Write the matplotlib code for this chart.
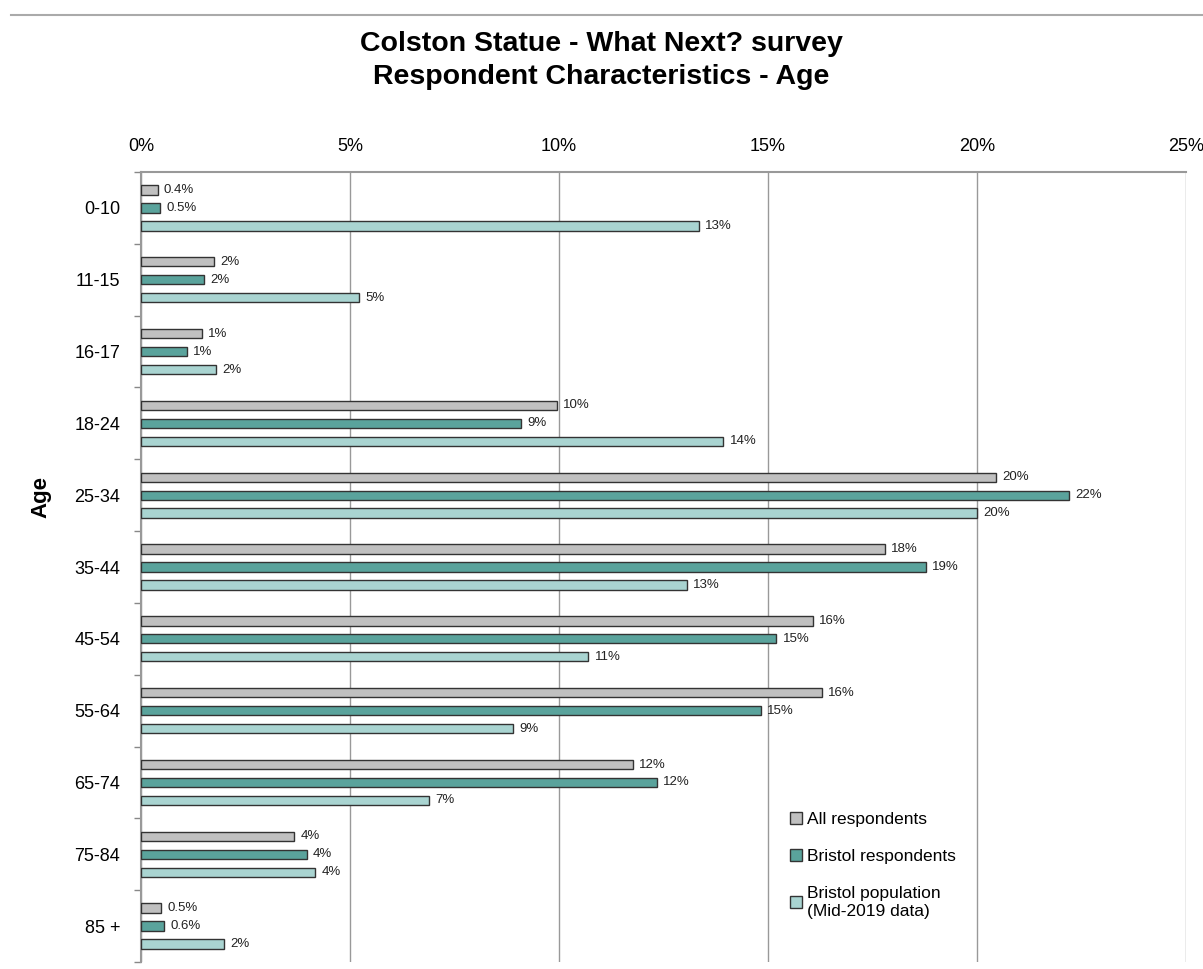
import numpy as np
import matplotlib.pyplot as plt
from matplotlib.lines import Line2D

plt.rcParams['font.family'] = ['Liberation Sans', 'DejaVu Sans']

# Datos (porcentaje)
age_groups = ['0-10', '11-15', '16-17', '18-24', '25-34', '35-44',
              '45-54', '55-64', '65-74', '75-84', '85 +']
all_respondents = [0.4, 1.75, 1.45, 9.94, 20.45, 17.8, 16.07, 16.28, 11.76, 3.66, 0.48]
bristol_respondents = [0.46, 1.51, 1.09, 9.1, 22.2, 18.78, 15.2, 14.83, 12.34, 3.96, 0.56]
bristol_population = [13.35, 5.21, 1.8, 13.93, 20.0, 13.05, 10.7, 8.9, 6.9, 4.17, 1.98]

series_names = ['All respondents', 'Bristol respondents',
                'Bristol population\n(Mid-2019 data)']
series_colors = ['#c0c0c0', '#5aa39c', '#a9d4d1']
x_ticks = [0, 5, 10, 15, 20, 25]


def fmt(v):
    # valores bajo 1% con un decimal, el resto redondeado
    if v < 1:
        return f'{v:.1f}%'
    return f'{round(v)}%'


fig = plt.figure(figsize=(12.03, 9.69), dpi=100)
ax = fig.add_axes([0.1172, 0.0072, 0.986 - 0.1172, 0.8225 - 0.0072])

y = np.arange(len(age_groups))
bar_h = 0.13
offsets = [-0.25, 0.0, 0.25]
all_series = [all_respondents, bristol_respondents, bristol_population]

for vals, off, color, name in zip(all_series, offsets, series_colors, series_names):
    bars = ax.barh(y + off, vals, height=bar_h, color=color,
                   edgecolor='#333333', linewidth=1.0, label=name, zorder=3)
    for b, v in zip(bars, vals):
        ax.text(v + 0.15, b.get_y() + b.get_height() / 2, fmt(v),
                va='center', ha='left', fontsize=9.5, color='#222222')

ax.set_xlim(0, 25)
ax.set_ylim(len(age_groups) - 0.5, -0.5)

# Eje x arriba
ax.xaxis.tick_top()
ax.set_xticks(x_ticks)
ax.set_xticklabels([f'{t}%' for t in x_ticks], fontsize=13)
ax.tick_params(axis='x', length=0, pad=12)
ax.grid(axis='x', color='#999999', linewidth=1.0, zorder=0)

# Eje y: etiquetas al centro, marcas en los limites
ax.set_yticks(y)
ax.set_yticklabels(age_groups, fontsize=13)
ax.tick_params(axis='y', which='major', length=0, pad=15)
ax.set_yticks(np.arange(len(age_groups) + 1) - 0.5, minor=True)
ax.tick_params(axis='y', which='minor', length=5, color='#888888', width=1)

for side in ['bottom', 'right']:
    ax.spines[side].set_visible(False)
ax.spines['left'].set_color('#999999')
ax.spines['top'].set_color('#999999')
ax.spines['left'].set_linewidth(1.5)
ax.spines['top'].set_linewidth(1.5)

ax.set_ylabel('Age', fontsize=16, fontweight='bold')
ax.yaxis.set_label_coords(-0.086, 0.589)

fig.text(0.5, 0.9375, 'Colston Statue - What Next? survey\nRespondent Characteristics - Age',
         ha='center', va='center', fontsize=20.5, fontweight='bold', linespacing=1.32)

# linea gris superior
fig.add_artist(Line2D([0.009, 1.0], [0.9845, 0.9845], color='#aaaaaa', linewidth=1.5))

leg = ax.legend(loc='upper left', bbox_to_anchor=(783 / 1203, 1 - 805 / 969),
                bbox_transform=fig.transFigure, frameon=False, fontsize=12.5,
                handlelength=0.7, handleheight=0.7, handletextpad=0.3,
                labelspacing=1.25, borderaxespad=0)
for t in leg.get_texts():
    t.set_linespacing(1.3)

fig.savefig('out.png', dpi=100)
